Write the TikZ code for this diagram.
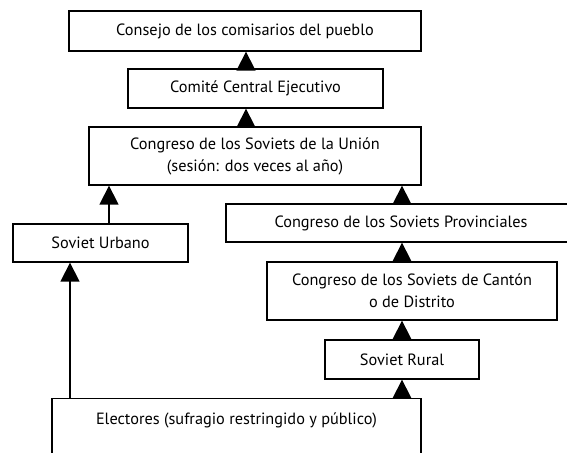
\documentclass[tikz,border=0pt]{standalone}
\usepackage{fontspec}
\setmainfont{PT Sans}
\usetikzlibrary{arrows.meta}
\tikzset{
  box/.style={draw, line width=1.3pt, rectangle, inner sep=0pt, align=center,
    font=\fontsize{16.3}{22}\selectfont},
  arr/.style={line width=1.3pt, -{Triangle[length=19pt,width=19pt]}}
}
\begin{document}
\begin{tikzpicture}[x=1pt,y=1pt]
\clip (0,0) rectangle (567,452);
\fill[white] (0,0) rectangle (567,452);
\node[box, minimum width=352, minimum height=40] (cons) at (245,421) {Consejo de los comisarios del pueblo};
\node[box, minimum width=255, minimum height=39] (com) at (255.5,363.5) {Comité Central Ejecutivo};
\node[box, minimum width=332, minimum height=58] (union) at (255,296) {Congreso de los Soviets de la Unión\\(sesión: dos veces al año)};
\node[box, minimum width=175, minimum height=38] (urb) at (100.5,209) {Soviet Urbano};
\node[box, minimum width=350, minimum height=38] (prov) at (401,229) {Congreso de los Soviets Provinciales};
\node[box, minimum width=290, minimum height=58] (canton) at (412,161) {Congreso de los Soviets de Cantón\\o de Distrito};
\node[box, minimum width=154, minimum height=39] (rural) at (402,92.5) {Soviet Rural};
\node[box, minimum width=369, anchor=north, text height=26, text depth=60] (elect) at (236.5,54) {Electores (sufragio restringido y público)};
\draw[arr] (246,0 |- com.north) -- (246,0 |- cons.south);
\draw[arr] (246,0 |- union.north) -- (246,0 |- com.south);
\draw[arr] (109,0 |- urb.north) -- (109,0 |- union.south);
\draw[arr] (70,0 |- elect.north) -- (70,0 |- urb.south);
\draw[arr] (402,0 |- prov.north) -- (402,0 |- union.south);
\draw[arr] (402,0 |- canton.north) -- (402,0 |- prov.south);
\draw[arr] (402,0 |- rural.north) -- (402,0 |- canton.south);
\draw[arr] (402,0 |- elect.north) -- (402,0 |- rural.south);
\end{tikzpicture}
\end{document}
